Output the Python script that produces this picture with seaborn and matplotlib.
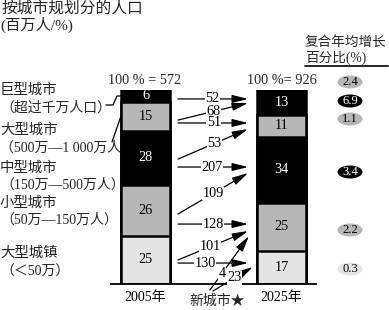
import numpy as np
import pandas as pd
import matplotlib
matplotlib.use("Agg")
import matplotlib.pyplot as plt
from matplotlib.patches import Ellipse
import seaborn as sns

# ---- data -------------------------------------------------------------
years = ["2005年", "2025年"]
totals = [572, 926]
classes = ["巨型城市", "大型城市", "中型城市", "小型城市", "大型城镇"]
class_notes = ["（超过千万人口）", "（500万—1 000万人）", "（150万—500万人）",
               "（50万—150万人）", "（＜50万）"]
share_2005 = [6, 15, 28, 26, 25]
share_2025 = [13, 11, 34, 25, 17]

# population moving between size classes, 2005 -> 2025 (millions)
flow_values = [52, 68, 51, 53, 207, 109, 128, 101, 130, 4, 23]
flow_from = ["巨型城市", "大型城市", "大型城市", "中型城市", "中型城市",
             "小型城市", "小型城市", "大型城镇", "大型城镇", "新城市", "新城市"]
flow_to = ["巨型城市", "巨型城市", "大型城市", "大型城市", "中型城市",
           "中型城市", "小型城市", "小型城市", "大型城镇", "小型城市", "大型城镇"]

# compound annual growth rate, total first then per class (%)
cagr_groups = ["总计"] + classes
cagr = [2.4, 6.9, 1.1, 3.4, 2.2, 0.3]

# ---- styling ----------------------------------------------------------
sns.set_theme(style="white")
FONT = ["Liberation Serif", "Noto Sans CJK SC", "DejaVu Sans"]
plt.rcParams["font.family"] = FONT
NUM_FS = 10.3

BLACK, GRAY, LIGHT = "#000000", "#b7b7b7", "#e4e4e4"
class_colors = {"巨型城市": BLACK, "大型城市": GRAY, "中型城市": BLACK,
                "小型城市": GRAY, "大型城镇": LIGHT}

W, H = 389, 310
fig = plt.figure(figsize=(W / 100, H / 100), dpi=100)
fig.patch.set_facecolor("white")

# bar axes: y in percent of the total, x = the two years
ax = fig.add_axes([111 / W, 26 / H, 205 / W, 194 / H])

df = pd.DataFrame({
    "year": np.repeat(years, len(classes)),
    "cls": classes * len(years),
    "share": share_2005 + share_2025,
})
# stack from the bottom class upward
order_bottom_up = classes[::-1]
df["rank"] = df["cls"].map({c: i for i, c in enumerate(order_bottom_up)})
df = df.sort_values(["year", "rank"])
df["top"] = df.groupby("year")["share"].cumsum()
df["mid"] = df["top"] - df["share"] / 2

# draw tallest cumulative layer first, then overlay the lower ones
for cls in classes:
    layer = df[df["cls"] == cls]
    sns.barplot(data=layer, x="year", y="top", order=years, color=class_colors[cls],
                saturation=1, width=0.36, edgecolor="black", linewidth=1.8, ax=ax)

for _, r in df.iterrows():
    xi = years.index(r["year"])
    tc = "white" if class_colors[r["cls"]] == BLACK else "black"
    ax.text(xi, r["mid"], f"{r['share']}", ha="center", va="center",
            fontsize=NUM_FS, color=tc, family=FONT, zorder=5)

ax.set_xlim(-0.254, 1.254)
ax.set_ylim(0, 100)
ax.set_xlabel("")
ax.set_ylabel("")
ax.set_yticks([])
for side in ["left", "right", "top"]:
    ax.spines[side].set_visible(False)
ax.spines["bottom"].set_color("black")
ax.spines["bottom"].set_linewidth(1.3)
ax.tick_params(axis="x", length=0, pad=5, labelsize=10, colors="black")
ax.set_facecolor("none")

# flow arrows between the bars
arrow_x0 = [0.239] * 9 + [0.474, 0.496]
arrow_x1 = [0.754] * 9 + [0.761, 0.790]
arrow_y0 = [95.4, 84.5, 83.0, 64.4, 60.3, 36.1, 30.9, 12.4, 10.8, -3.1, -3.6]
arrow_y1 = [95.4, 93.3, 83.0, 79.9, 60.3, 57.2, 30.9, 27.3, 10.8, 24.7, 8.8]
label_at = [0.49, 0.5, 0.51, 0.52, 0.49, 0.5, 0.5, 0.46, 0.39, 0.31, 0.55]

for v, x0, x1, y0, y1, f in zip(flow_values, arrow_x0, arrow_x1, arrow_y0, arrow_y1, label_at):
    ax.annotate("", xy=(x1, y1), xytext=(x0, y0), annotation_clip=False,
                arrowprops=dict(arrowstyle="-|>,head_length=0.8,head_width=0.2",
                                color="black", lw=0.9, mutation_scale=12,
                                shrinkA=0, shrinkB=0))
    ax.text(x0 + f * (x1 - x0), y0 + f * (y1 - y0), str(v), ha="center", va="center",
            fontsize=NUM_FS, family=FONT, color="black", zorder=6, clip_on=False,
            bbox=dict(boxstyle="square,pad=0.03", fc="white", ec="none"))

# ---- overlay in pixel coordinates for the surrounding text ------------
ov = fig.add_axes([0, 0, 1, 1], zorder=-1)
ov.set_xlim(0, W)
ov.set_ylim(H, 0)
ov.axis("off")

ov.text(2, 9, "按城市规划分的人口", fontsize=11.3, ha="left", va="center", family=FONT)
ov.text(0, 25, "(百万人/%)", fontsize=11, ha="left", va="center", family=FONT)

label_rows = [(90, 108), (130, 148), (168, 185), (203, 220), (253, 272)]
for cls, note, (y1, y2) in zip(classes, class_notes, label_rows):
    ov.text(0, y1, cls, fontsize=10.4, ha="left", va="center", family=FONT)
    ov.text(0, y2, note, fontsize=10, ha="left", va="center", family=FONT)

# leader lines from the two top labels to their segments
ov.plot([106, 113, 117, 121], [105, 105, 96, 96], color="black", lw=0.9)
ov.plot([112, 121], [142, 116], color="black", lw=0.9)

ov.text(145, 80, f"100 % = {totals[0]}", fontsize=NUM_FS, ha="center", va="center", family=FONT)
ov.text(282, 80, f"100 %= {totals[1]}", fontsize=NUM_FS, ha="center", va="center", family=FONT)

ov.text(217, 301, "新城市★", fontsize=10, ha="center", va="center", family=FONT)

# growth column
ov.text(305, 42, "复合年均增长", fontsize=9.8, ha="left", va="center", family=FONT)
ov.text(305, 58, "百分比(%)", fontsize=9.8, ha="left", va="center", family=FONT)
ov.plot([305, 388], [66, 66], color="black", lw=1.2)

ell_y = [82, 101, 119, 172, 230, 269]
ell_fill = [GRAY, BLACK, GRAY, BLACK, GRAY, LIGHT]
for g, v, y, c in zip(cagr_groups, cagr, ell_y, ell_fill):
    ov.add_patch(Ellipse((350, y), 25, 13, facecolor=c, edgecolor="none"))
    ov.text(350, y, f"{v}", fontsize=9, ha="center", va="center", family=FONT,
            color="white" if c == BLACK else "black")

fig.savefig("out.png", dpi=100, facecolor="white")
